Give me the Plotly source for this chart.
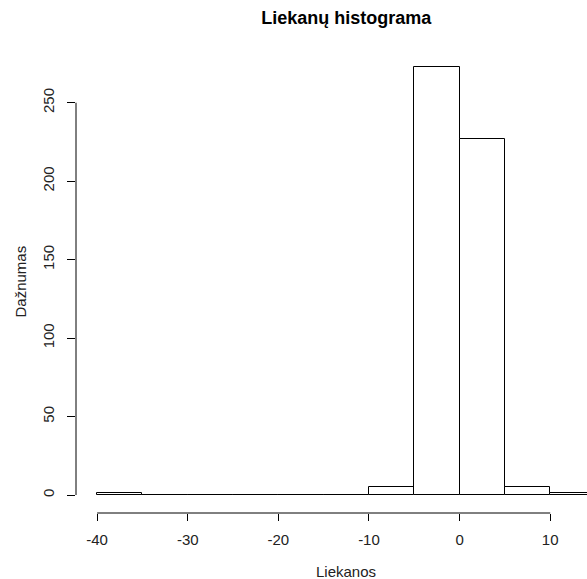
import plotly.graph_objects as go

# Data: histogram of residuals (bin edges width 5)
bin_left = [-40, -35, -30, -25, -20, -15, -10, -5, 0, 5, 10]
bin_width = 5
counts = [1, 0, 0, 0, 0, 0, 5, 273, 227, 5, 1]

x_ticks = [-40, -30, -20, -10, 0, 10]
x_ticklabels = ["-40", "-30", "-20", "-10", "0", "10"]
y_ticks = [0, 50, 100, 150, 200, 250]
y_ticklabels = ["0", "50", "100", "150", "200", "250"]

title_text = "Liekanų histograma"
xlab = "Liekanos"
ylab = "Dažnumas"

centers = [b + bin_width / 2 for b in bin_left]

FONT = "Liberation Sans, Arial, sans-serif"

fig = go.Figure()
fig.add_trace(go.Bar(
    x=centers, y=counts, width=[bin_width] * len(counts),
    marker=dict(color="white", line=dict(color="black", width=1)),
    showlegend=False,
))

fig.update_layout(
    width=587, height=579,
    margin=dict(l=76, r=0, t=50, b=66),
    paper_bgcolor="white", plot_bgcolor="white",
    font=dict(family=FONT, size=15, color="black"),
    bargap=0,
    title=dict(text="<b>" + title_text + "</b>", x=0.529, xref="paper",
               y=1 - 18 / 579, yref="container", yanchor="middle", xanchor="center",
               font=dict(size=18, family=FONT, color="black")),
    xaxis=dict(range=[-42.33, 14.06], tickvals=x_ticks, ticktext=x_ticklabels,
               ticks="outside", ticklen=7, tickwidth=1, tickcolor="black",
               ticklabelstandoff=6,
               showgrid=False, zeroline=False, showline=False,
               tickfont=dict(size=15, color="#222")),
    yaxis=dict(range=[-11.47, 283.6], tickvals=y_ticks, ticktext=y_ticklabels,
               ticks="outside", ticklen=8, tickwidth=1, tickcolor="black",
               tickangle=-90, ticklabelstandoff=7,
               showgrid=False, zeroline=False, showline=False,
               tickfont=dict(size=15, color="#222")),
    shapes=[
        dict(type="line", xref="x", yref="paper", x0=x_ticks[0], x1=x_ticks[-1],
             y0=0, y1=0, line=dict(color="black", width=1)),
        dict(type="line", xref="paper", yref="y", x0=0, x1=0,
             y0=y_ticks[0], y1=y_ticks[-1], line=dict(color="black", width=1)),
    ],
    annotations=[
        dict(text=xlab, xref="paper", yref="paper", x=0.529, y=-58 / 463,
             xanchor="center", yanchor="middle", showarrow=False,
             font=dict(size=15, color="#222")),
        dict(text=ylab, xref="paper", yref="paper", x=-56 / 511, y=0.5,
             xanchor="center", yanchor="middle", showarrow=False, textangle=-90,
             font=dict(size=15, color="#222")),
    ],
)

fig.write_html("out.html")
